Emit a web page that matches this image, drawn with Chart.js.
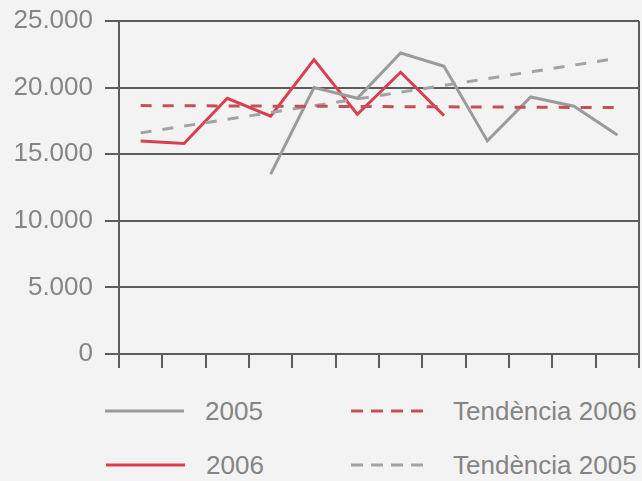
<!DOCTYPE html>
<html>
<head>
<meta charset="utf-8">
<script src="https://cdn.jsdelivr.net/npm/chart.js@4"></script>
<style>
  html, body { margin:0; padding:0; background:#f3f3f3; }
  body { width:642px; height:481px; position:relative; overflow:hidden;
         font-family:"Liberation Sans", Arial, sans-serif; color:#858585; }
  #wrap { position:absolute; left:0; top:0; width:642px; height:373px; }
  .lg { position:absolute; font-size:26px; line-height:26px; }
  .lg svg { position:absolute; }
</style>
</head>
<body>
<div id="wrap"><canvas id="chart"></canvas></div>
<div id="legend"></div>
<script>
"use strict";

// months 1..12
const MONTHS = ['1','2','3','4','5','6','7','8','9','10','11','12'];
const Y_TICKS = [0, 5000, 10000, 15000, 20000, 25000];

const V2005 = [null, null, null, 13500, 20000, 19200, 22600, 21600, 16000, 19300, 18600, 16450];
const V2006 = [16000, 15800, 19200, 17850, 22100, 18000, 21150, 17900, null, null, null, null];
// trend lines: read at first and last month, drawn straight between
const TREND2006 = [18650, null, null, null, null, null, null, null, null, null, null, 18500];
const TREND2005 = [16600, null, null, null, null, null, null, null, null, null, null, 22200];

const C = {gray:'#9b9b9b', red:'#d8404f', redDash:'#c4505c', grayDash:'#a3a3a3',
           axis:'#5c5c5c', txt:'#858585'};

const fmt = v => v === 0 ? '0' : v.toLocaleString('de-DE');

new Chart(document.getElementById('chart'), {
  type: 'line',
  data: {
    labels: MONTHS,
    datasets: [
      {label:'Tendència 2006', data:TREND2006, borderColor:C.redDash, borderWidth:3,
       borderDash:[11,11], spanGaps:true, pointRadius:0},
      {label:'Tendència 2005', data:TREND2005, borderColor:C.grayDash, borderWidth:3,
       borderDash:[11,11], spanGaps:true, pointRadius:0},
      {label:'2005', data:V2005, borderColor:C.gray, borderWidth:3, pointRadius:0, tension:0},
      {label:'2006', data:V2006, borderColor:C.red, borderWidth:3, pointRadius:0, tension:0},
    ]
  },
  options: {
    responsive: true, maintainAspectRatio: false, animation: false,
    layout: {padding: {top: 21, right: 3, bottom: 5, left: 0}},
    plugins: {legend: {display:false}, tooltip: {enabled:false}},
    scales: {
      x: {
        offset: true,
        // only the two outer grid lines run through the plot (left/right frame);
        // the extra offset line past the last tick gets the scale context
        grid: {offset:true, drawTicks:true, tickLength:14, lineWidth:2,
               color: ctx => (ctx.index === 0 || ctx.type === 'scale') ? C.axis : 'transparent',
               tickColor: C.axis},
        border: {display:false},
        ticks: {display:false}
      },
      y: {
        min: 0, max: 25000,
        afterBuildTicks: s => { s.ticks = Y_TICKS.map(v => ({value:v})); },
        afterFit: s => { s.width = 119; s.paddingTop = 0; s.paddingBottom = 0; },
        grid: {color:C.axis, lineWidth:2, tickLength:14, tickColor:C.axis},
        border: {display:true, color:C.axis, width:2},
        ticks: {color:C.txt, padding:12, font:{family:'"Liberation Sans", Arial, sans-serif', size:26},
                callback: v => fmt(v)}
      }
    }
  }
});

// legend: two columns, two rows
const LEGEND = [
  {text:'2005', color:C.gray, dash:null, x:105, y:411},
  {text:'2006', color:C.red, dash:null, x:106, y:465},
  {text:'Tendència 2006', color:C.redDash, dash:'12 8', x:351, y:411},
  {text:'Tendència 2005', color:C.grayDash, dash:'12 8', x:351, y:465},
];
const lg = document.getElementById('legend');
LEGEND.forEach(it => {
  const d = document.createElement('div');
  d.className = 'lg';
  d.style.left = it.x + 'px';
  d.style.top = (it.y - 13) + 'px';
  const dash = it.dash ? ` stroke-dasharray="${it.dash}"` : '';
  d.innerHTML = `<svg width="80" height="6" style="left:0;top:10px"><line x1="0" y1="3" x2="${it.dash ? 80 : 79}" y2="3" stroke="${it.color}" stroke-width="3"${dash}/></svg>` +
    `<span style="position:absolute;left:${it.dash ? 102 : 100}px;top:0;white-space:nowrap">${it.text}</span>`;
  lg.appendChild(d);
});
</script>
</body>
</html>
